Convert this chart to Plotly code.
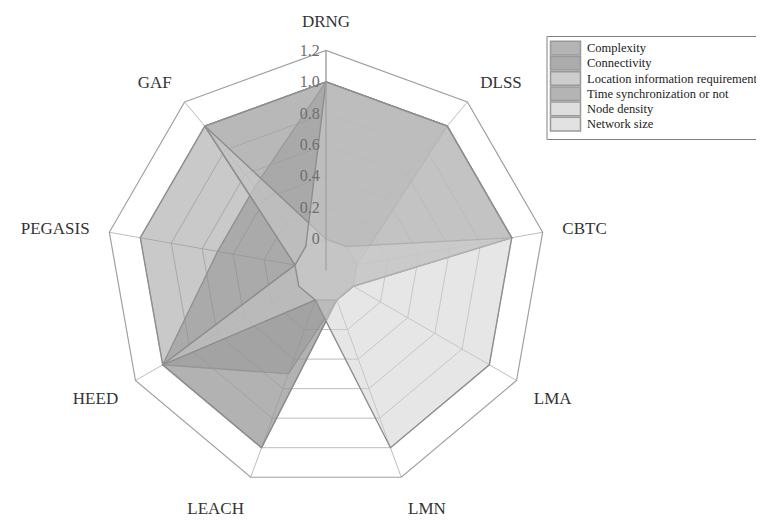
import plotly.graph_objects as go

categories = ["DRNG", "DLSS", "CBTC", "LMA", "LMN", "LEACH", "HEED", "PEGASIS", "GAF"]
series_names = ["Complexity", "Connectivity", "Location information requirements",
                "Time synchronization or not", "Node density", "Network size"]
complexity = [1, 1, 1, 0, 0, 0.5, 1, 0.5, 0.5]
connectivity = [1, 1, 0, 0, 0, 1, 1, 1, 1]
location_info = [1, 1, 1, 0, 0, 0, 0, 0, 1]
time_sync = [0, 0, 0, 0, 0, 1, 1, 0, 0]
node_density = [0, 0, 1, 0, 0, 0, 1, 0, 1]
network_size = [1, 1, 1, 1, 1, 0, 0, 0, 0]
radial_ticks = [0, 0.2, 0.4, 0.6, 0.8, 1.0, 1.2]
radial_ticktext = ["0", "0.2", "0.4", "0.6", "0.8", "1.0", "1.2"]

all_series = [complexity, connectivity, location_info, time_sync, node_density, network_size]
fill_colors = ["rgba(132,132,132,0.5)", "rgba(148,148,148,0.5)", "rgba(167,167,167,0.5)",
               "rgba(156,156,156,0.5)", "rgba(210,210,210,0.5)", "rgba(208,208,208,0.53)"]
swatch_colors = ["#b4b4b4", "#acacac", "#cdcdcd", "#b4b4b4", "#dedede", "#e2e2e2"]

fig = go.Figure()
for name, vals, fc in zip(series_names, all_series, fill_colors):
    fig.add_trace(go.Scatterpolar(
        r=vals + vals[:1],
        theta=categories + categories[:1],
        name=name,
        mode="lines",
        fill="toself",
        fillcolor=fc,
        line=dict(color="rgb(142,142,142)", width=1.4),
        showlegend=False,
    ))

W, H = 764, 522
cx, cy, R = 318.0, 262.5, 220
fig.update_layout(
    width=W, height=H,
    margin=dict(l=0, r=0, t=0, b=0),
    paper_bgcolor="white",
    font=dict(family="Liberation Serif", color="#333333"),
    polar=dict(
        domain=dict(x=[(cx - R) / W, (cx + R) / W],
                    y=[(H - cy - R) / H, (H - cy + R) / H]),
        gridshape="linear",
        bgcolor="white",
        angularaxis=dict(
            direction="clockwise", rotation=90,
            linecolor="#a0a0a0", linewidth=1.2,
            gridcolor="#bdbdbd", gridwidth=1,
            tickfont=dict(family="Liberation Serif", size=17, color="#333333"),
            ticks="outside", ticklen=16, tickcolor="rgba(0,0,0,0)",
        ),
        radialaxis=dict(
            range=[-0.2, 1.2],
            tickvals=radial_ticks, ticktext=radial_ticktext,
            angle=90, tickangle=90, side="counterclockwise",
            showline=True, linecolor="#a0a0a0", linewidth=1.2,
            gridcolor="#bdbdbd", gridwidth=1,
            ticks="",
            tickfont=dict(family="Liberation Serif", size=16, color="#6e6e6e"),
        ),
    ),
    showlegend=False,
)

# manual legend box (pixel positions converted to paper coordinates)
def px(x):
    return x / W

def py(y):
    return 1 - y / H

shapes = [dict(type="rect", xref="paper", yref="paper",
               x0=px(539), x1=px(775), y0=py(28.5), y1=py(131.5),
               line=dict(color="#808080", width=1), fillcolor="white", layer="above")]
annotations = []
row_top = 32.5
row_h = 15.2
for i, (name, sc) in enumerate(zip(series_names, swatch_colors)):
    yc = row_top + row_h * i + row_h / 2
    shapes.append(dict(type="rect", xref="paper", yref="paper",
                       x0=px(542.5), x1=px(572.5), y0=py(yc - 6.8), y1=py(yc + 6.8),
                       line=dict(color="#999999", width=1.5), fillcolor=sc, layer="above"))
    annotations.append(dict(text=name, xref="paper", yref="paper",
                            x=px(577), y=py(yc), xanchor="left", yanchor="middle",
                            showarrow=False,
                            font=dict(family="Liberation Serif", size=12.5, color="#222222")))
fig.update_layout(shapes=shapes, annotations=annotations)

fig.write_html("out.html")
